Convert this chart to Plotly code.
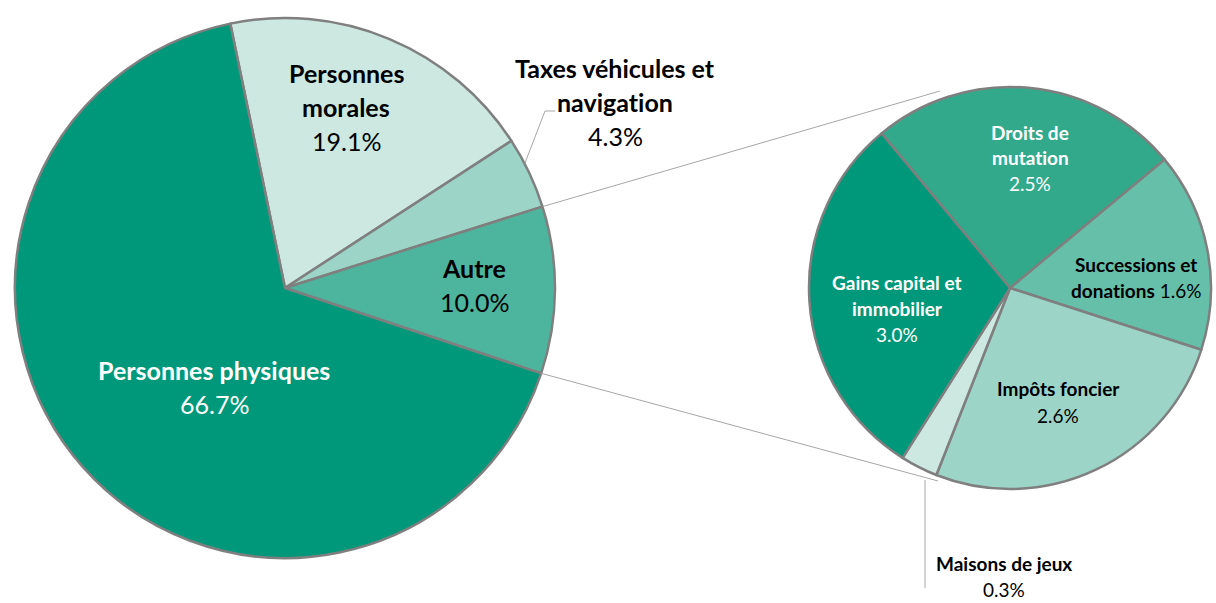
import math
import plotly.graph_objects as go

W, H = 1216, 603

# main pie
main_labels = ["Personnes morales", "Taxes véhicules et navigation", "Autre", "Personnes physiques"]
main_values = [19.1, 4.3, 10.0, 66.7]
main_colors = ["#CDE8E1", "#9CD5C8", "#4DB59D", "#00987A"]

# breakdown of "Autre"
sub_labels = ["Droits de mutation", "Successions et donations", "Impôts foncier",
              "Maisons de jeux", "Gains capital et immobilier"]
sub_values = [2.5, 1.6, 2.6, 0.3, 3.0]
sub_colors = ["#33A98C", "#66BFA9", "#9CD5C8", "#CDE8E1", "#00987A"]

# geometry (pixels)
MAIN_C, MAIN_R, MAIN_ROT = (285, 288), 270, -11.7
SUB_C, SUB_R, SUB_ROT = (1010, 288), 201, -39.7


def px(x, y):
    return x / W, 1 - y / H


def domain(c, r):
    return dict(x=[(c[0] - r) / W, (c[0] + r) / W], y=[1 - (c[1] + r) / H, 1 - (c[1] - r) / H])


fig = go.Figure()
fig.add_trace(go.Pie(labels=main_labels, values=main_values, sort=False, direction="clockwise",
                     rotation=MAIN_ROT, marker=dict(colors=main_colors, line=dict(color="#7F7F7F", width=2.5)),
                     textinfo="none", hoverinfo="label+value", domain=domain(MAIN_C, MAIN_R), showlegend=False))
fig.add_trace(go.Pie(labels=sub_labels, values=sub_values, sort=False, direction="clockwise",
                     rotation=SUB_ROT, marker=dict(colors=sub_colors, line=dict(color="#7F7F7F", width=2.5)),
                     textinfo="none", hoverinfo="label+value", domain=domain(SUB_C, SUB_R), showlegend=False))

# label layout: (name lines, x, first line y, colour)
FONT = "Lato, 'Open Sans', sans-serif"
BIG, SMALL = 25, 19
main_pos = [
    (["Personnes", "morales"], 346, 73, "black"),
    (["Taxes véhicules et", "navigation"], 615, 68, "black"),
    (["Autre"], 474, 268, "black"),
    (["Personnes physiques"], 214, 370, "white"),
]
sub_pos = [
    (["Droits de", "mutation"], 1030, 132, "white"),
    (["Successions et", "donations"], 1136, 264, "black"),
    (["Impôts foncier"], 1058, 389, "black"),
    (["Maisons de jeux"], 1004, 563, "black"),
    (["Gains capital et", "immobilier"], 897, 282, "white"),
]


def no_lig(s):
    # keep Lato from drawing the "ti" ligature
    return s.replace("ti", "t\u200ci")


def add_label(lines, pct, x, y, size, color, step, inline_pct=False):
    for i, line in enumerate(lines):
        txt = "<b>%s</b>" % no_lig(line)
        if inline_pct and i == len(lines) - 1:
            txt += " " + pct
        ax, ay = px(x, y + i * step)
        fig.add_annotation(x=ax, y=ay, xref="paper", yref="paper", text=txt, showarrow=False,
                           font=dict(family=FONT, size=size, color=color), xanchor="center", yanchor="middle")
    if not inline_pct:
        ax, ay = px(x, y + len(lines) * step)
        fig.add_annotation(x=ax, y=ay, xref="paper", yref="paper", text=pct, showarrow=False,
                           font=dict(family=FONT, size=size, color=color), xanchor="center", yanchor="middle")


for (lines, x, y, col), v in zip(main_pos, main_values):
    add_label(lines, "%.1f%%" % v, x, y, BIG, col, 34)
for (lines, x, y, col), v in zip(sub_pos, sub_values):
    add_label(lines, "%.1f%%" % v, x, y, SMALL, col, 26, inline_pct=lines[-1] == "donations")


def line(x0, y0, x1, y1, color="#A6A6A6", width=1):
    a0, b0 = px(x0, y0)
    a1, b1 = px(x1, y1)
    fig.add_shape(type="line", xref="paper", yref="paper", x0=a0, y0=b0, x1=a1, y1=b1,
                  line=dict(color=color, width=width))


# connectors from the "Autre" slice to the breakdown pie
total = sum(main_values)
start = sum(main_values[:2]) / total * 360 + MAIN_ROT
end = sum(main_values[:3]) / total * 360 + MAIN_ROT
for ang, target in [(start, (940, 91)), (end, (938, 481))]:
    r = math.radians(ang)
    line(MAIN_C[0] + MAIN_R * math.sin(r), MAIN_C[1] - MAIN_R * math.cos(r), *target)

# leader lines
line(525, 163, 545, 111)
line(545, 111, 555, 111)
line(925, 480, 925, 588)

fig.update_layout(width=W, height=H, margin=dict(l=0, r=0, t=0, b=0),
                  paper_bgcolor="white", plot_bgcolor="white")
fig.write_html("out.html", config={"displayModeBar": False},
               post_script="document.body.style.margin='0';")
